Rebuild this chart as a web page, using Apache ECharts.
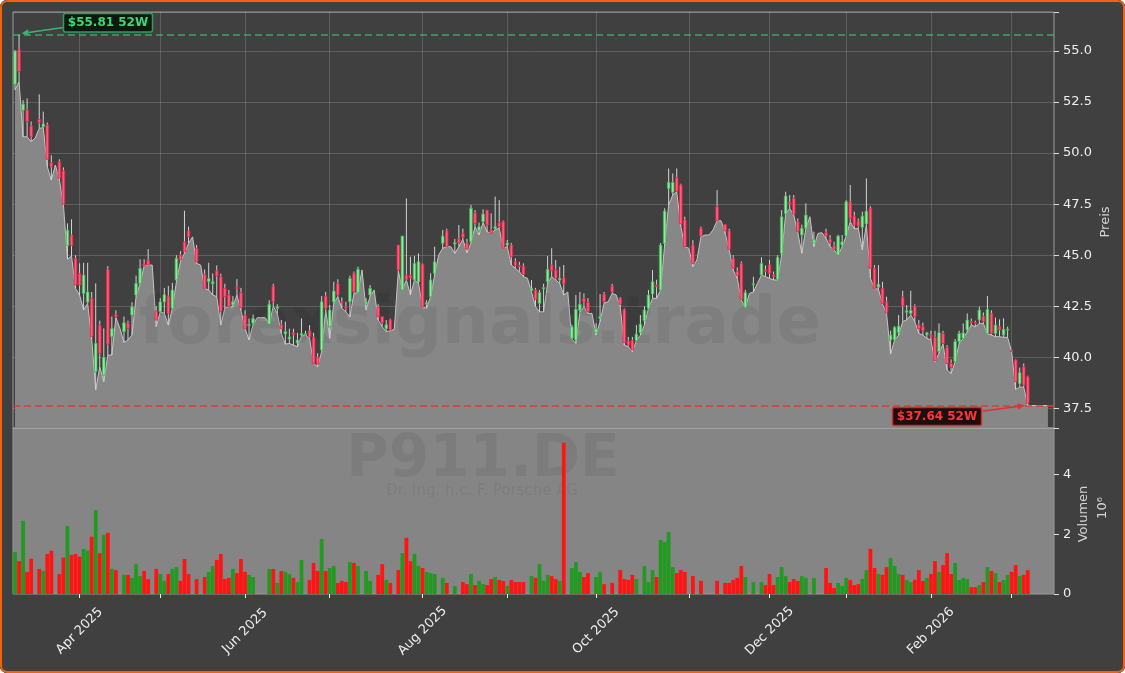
<!DOCTYPE html>
<html>
<head>
<meta charset="utf-8">
<script src="https://cdn.jsdelivr.net/npm/echarts@6/dist/echarts.min.js"></script>
<style>
html,body{margin:0;padding:0;background:#ffffff;}
#wrap{position:relative;width:1125px;height:673px;overflow:hidden;border-radius:7px;background:#404040;}
#chart{position:absolute;left:0;top:0;width:1125px;height:673px;}
#frame{position:absolute;left:0;top:0;width:1125px;height:673px;box-sizing:border-box;border:2.5px solid #f4600c;border-radius:7px;pointer-events:none;}
</style>
</head>
<body>
<div id="wrap"><div id="chart"></div><div id="frame"></div></div>
<script>
// ---------- data ----------
const START_DATE = '2025-03-10';
const HOLIDAYS = ['2025-04-18','2025-04-21','2025-05-01','2025-12-24','2025-12-25','2025-12-26','2025-12-31','2026-01-01'];
const SLOT_COUNT = 258;
const MONTH_NAMES = ['Jan','Feb','Mar','Apr','May','Jun','Jul','Aug','Sep','Oct','Nov','Dec'];
const LABELED_MONTHS = ['Apr','Jun','Aug','Oct','Dec','Feb'];

const openP = [
53.37,55.08,52.10,52.11,51.33,null,51.65,51.29,51.38,49.53,
null,49.58,49.14,45.47,45.99,44.85,44.11,43.13,42.70,42.89,
39.30,41.58,39.13,44.31,41.01,42.10,null,41.25,41.67,42.07,
43.05,43.62,44.57,44.77,null,42.27,42.23,42.72,43.00,42.40,
43.79,45.01,45.66,46.19,null,45.34,null,44.06,43.70,43.60,
44.24,43.95,43.38,43.05,42.56,43.43,43.17,42.07,41.55,41.67,
null,null,null,41.63,43.49,42.40,41.60,41.14,40.90,41.20,
40.70,41.09,41.14,41.30,40.98,40.00,40.36,43.00,41.50,42.72,
43.62,42.72,42.48,42.72,44.11,43.17,null,42.61,43.05,null,
42.45,41.99,41.40,41.83,null,45.50,43.30,44.03,44.03,43.79,
43.70,44.57,42.60,42.97,44.11,null,45.58,46.20,null,45.55,
45.80,46.07,45.60,45.66,47.08,46.20,46.64,47.21,46.24,46.30,
46.60,46.64,45.50,45.50,44.70,44.50,44.47,null,43.26,43.30,
42.64,43.35,43.70,44.52,44.28,43.79,43.90,null,40.93,40.85,
42.30,42.90,42.69,null,41.20,41.90,43.10,null,43.49,null,
42.90,42.35,40.80,40.82,40.82,41.21,41.79,42.40,43.10,43.54,
43.30,45.58,48.27,48.08,48.80,48.44,46.72,null,45.50,null,
46.32,null,null,null,47.38,null,46.50,46.20,44.85,44.20,
44.60,42.45,null,43.55,null,44.03,44.30,44.52,44.05,43.82,
45.09,47.02,47.60,47.79,46.64,45.99,46.32,null,45.60,null,
null,46.10,45.78,45.45,45.01,45.50,45.94,47.62,46.92,46.67,
46.37,46.53,47.30,44.36,43.43,43.38,42.72,40.85,40.85,41.21,
42.94,42.20,42.15,42.51,41.60,41.50,41.10,41.10,40.98,40.28,
41.17,40.49,39.70,39.79,40.77,40.93,41.34,41.75,41.70,41.83,
42.02,41.17,42.15,41.17,41.50,41.09,41.35,40.34,39.87,38.70,
39.54,39.05];

const highP = [
55.05,55.81,52.60,52.68,51.55,null,52.88,52.03,51.50,49.90,
null,49.70,49.30,46.56,46.76,45.00,44.60,44.63,44.63,43.20,
43.62,41.80,41.42,44.47,42.00,42.30,null,42.00,41.80,42.70,
44.00,44.80,44.80,45.30,null,42.50,42.90,43.40,43.50,43.65,
45.00,45.20,47.18,46.40,null,45.50,null,44.30,44.63,44.11,
44.50,44.10,43.60,43.30,43.00,43.83,43.40,42.30,41.90,42.10,
null,null,null,42.80,43.60,42.60,41.83,41.75,41.40,41.40,
41.20,41.91,41.30,41.58,41.20,40.20,43.00,43.20,42.56,43.70,
43.82,42.93,42.72,44.00,44.20,44.44,null,42.90,43.54,null,
42.60,42.00,41.83,41.90,null,45.50,45.94,47.78,44.93,44.97,
45.09,44.60,42.80,44.11,45.42,null,46.24,46.30,null,45.80,
46.48,46.30,45.80,47.46,47.21,46.60,47.25,47.21,47.05,47.87,
47.70,46.70,45.75,45.60,44.85,44.68,44.60,null,43.79,43.40,
43.30,43.60,44.96,45.34,44.77,44.44,44.52,null,41.60,43.05,
43.20,43.13,42.90,null,41.66,43.10,43.20,null,43.60,null,
42.95,42.40,41.00,41.00,41.58,42.07,42.50,43.30,44.28,43.80,
45.60,47.30,49.25,49.00,49.25,48.50,46.89,null,45.74,null,
46.40,null,null,null,48.19,null,46.53,46.30,45.00,44.40,
44.70,43.30,null,43.95,null,44.90,44.50,44.77,44.20,45.00,
47.21,48.11,47.95,47.95,46.80,46.50,47.54,null,46.15,null,
null,46.30,45.99,45.66,46.00,45.99,47.70,48.44,47.13,46.80,
47.13,48.76,47.40,44.52,44.52,43.70,42.97,41.30,41.53,42.07,
43.26,42.56,43.26,42.60,41.83,41.70,41.25,41.30,41.30,41.66,
41.30,40.60,39.90,40.90,41.30,41.66,42.15,41.90,41.80,42.48,
42.20,43.00,42.30,41.95,41.86,41.91,41.50,40.36,39.90,39.50,
39.70,39.10];

const lowP = [
53.10,53.50,50.80,50.80,50.56,50.74,51.21,51.25,49.33,48.68,
49.42,48.68,47.46,44.81,44.96,43.38,43.05,42.32,42.64,40.90,
38.40,39.54,38.81,40.11,40.11,41.95,41.42,40.73,40.85,41.10,
42.97,43.62,44.47,44.52,44.52,41.50,42.23,42.15,41.58,42.40,
43.70,44.68,45.10,45.58,45.90,44.60,44.52,43.38,43.30,43.05,
42.97,41.58,42.40,42.48,42.48,43.05,42.30,41.42,40.85,41.60,
41.94,41.94,41.94,41.63,42.50,42.15,41.18,40.65,40.68,40.60,
40.52,41.04,41.10,40.93,39.70,39.54,40.28,42.32,40.93,42.64,
42.97,42.40,42.23,41.99,43.13,43.17,44.28,42.32,42.97,43.30,
41.83,41.50,41.26,41.30,41.37,44.24,43.30,43.79,43.05,43.79,
43.62,42.48,42.40,42.97,44.03,45.01,45.34,45.42,45.42,45.09,
45.42,45.78,45.12,45.60,46.40,45.99,46.60,46.15,46.07,46.24,
46.32,45.34,45.42,44.52,44.36,44.19,43.95,43.87,43.21,42.48,
42.23,42.23,43.62,43.95,43.79,43.62,43.05,43.20,40.90,40.68,
42.20,42.48,42.15,42.15,41.09,41.75,42.65,42.72,43.13,43.05,
42.48,40.60,40.52,40.28,40.82,41.09,41.60,42.40,42.89,42.89,
43.30,45.50,47.46,47.95,48.10,46.43,45.42,45.34,44.44,44.77,
45.90,45.99,45.99,46.24,46.69,46.69,46.07,45.26,44.28,43.87,
42.80,42.45,43.13,43.20,43.62,44.03,43.95,43.87,43.79,43.79,
45.01,47.02,47.29,46.97,46.10,45.09,46.30,46.89,45.42,46.07,
46.10,45.83,45.42,45.26,45.01,45.42,45.94,46.64,46.30,46.30,
45.26,46.50,43.87,43.38,43.33,42.60,42.15,40.16,40.85,41.09,
41.75,41.83,42.07,41.75,41.17,41.09,40.93,40.85,39.79,40.20,
40.65,39.38,39.21,39.79,40.68,40.93,41.25,41.58,41.50,41.66,
41.66,41.15,41.09,41.01,41.01,40.98,40.98,40.28,38.43,38.54,
38.54,37.64,37.64,37.64,37.64,37.64,37.64];

const closeP = [
55.00,53.99,52.40,51.54,50.80,null,51.49,51.43,49.70,49.33,
null,48.77,47.50,46.23,45.47,43.54,43.54,44.03,43.20,41.01,
40.69,40.20,40.00,40.64,41.42,41.98,null,41.70,41.42,42.48,
43.62,44.36,44.47,44.52,null,41.83,42.72,43.08,42.15,43.30,
44.85,44.77,45.17,45.90,null,44.68,null,43.38,43.87,43.70,
43.98,42.27,42.97,42.48,42.72,43.36,42.43,41.42,41.62,41.91,
null,null,null,42.60,42.72,42.48,41.40,41.26,41.00,41.10,
40.85,41.17,41.16,41.00,39.70,39.67,42.72,42.40,42.32,43.25,
43.05,42.68,42.40,43.87,43.21,44.31,null,42.72,43.38,null,
41.99,41.70,41.60,41.34,null,44.28,45.94,43.79,43.87,44.60,
44.68,42.48,42.67,43.79,44.68,null,45.94,45.42,null,45.62,
45.60,45.88,45.30,47.30,46.56,46.40,47.02,46.48,46.07,46.40,
46.40,45.34,45.60,44.93,44.50,44.44,44.06,null,43.38,42.84,
43.17,43.42,44.31,44.24,43.87,43.87,43.60,null,41.50,42.35,
42.60,42.70,42.24,null,41.40,42.00,42.73,null,43.21,null,
42.60,40.72,40.60,40.36,41.14,41.63,42.32,43.05,43.70,43.46,
45.50,47.16,48.57,48.57,48.14,46.53,45.42,null,44.60,null,
45.94,null,null,null,46.69,null,46.20,45.29,44.36,44.00,
42.84,43.17,null,43.60,null,44.60,44.20,44.11,43.95,44.90,
46.89,47.90,47.50,47.02,46.15,46.32,46.97,null,45.75,null,
null,45.95,45.62,45.29,45.94,45.66,47.62,46.81,46.48,46.43,
46.92,47.16,44.36,43.38,43.59,42.64,42.19,41.09,41.47,41.53,
42.51,42.28,42.30,41.99,41.40,41.30,41.20,41.00,39.84,41.21,
40.68,39.70,39.51,40.77,41.17,41.20,41.83,41.68,41.65,42.32,
41.75,42.35,41.17,41.58,41.34,41.37,41.38,40.29,38.81,39.25,
38.64,37.75];

// volume in millions
const volumeM = [
1.41,1.10,2.45,0.74,1.18,null,0.84,0.77,1.34,1.45,
null,0.67,1.22,2.28,1.31,1.34,1.25,1.51,1.45,1.92,
2.81,1.37,1.98,2.05,0.84,0.80,null,0.64,0.64,0.54,
1.00,0.60,0.77,0.50,null,0.84,0.67,0.44,0.67,0.84,
0.90,0.44,1.17,0.67,null,0.50,null,0.57,0.74,0.94,
1.14,1.34,0.50,0.54,0.84,0.70,1.17,0.74,0.64,0.57,
null,null,null,0.84,0.84,0.37,0.77,0.74,0.67,0.54,
0.40,1.14,null,0.47,1.04,0.77,1.84,0.77,0.87,0.94,
0.37,0.44,0.40,1.07,1.04,0.94,null,0.77,0.44,null,
0.64,1.00,0.47,0.37,null,0.80,1.37,1.88,1.10,1.34,
0.94,0.87,0.74,0.70,0.67,null,0.54,0.37,null,0.27,
null,0.40,0.33,0.67,0.30,0.44,0.33,0.30,0.50,0.57,
0.47,0.44,0.27,0.47,0.40,0.40,0.40,null,0.60,0.54,
1.00,0.44,0.64,0.60,0.50,0.44,5.07,null,0.87,1.07,
0.74,0.57,0.70,null,0.57,0.74,0.33,null,0.37,null,
0.80,0.50,0.47,0.64,0.50,null,0.94,0.40,0.80,0.57,
1.81,1.74,2.08,0.90,0.70,0.80,0.74,null,0.60,null,
0.44,null,null,null,0.44,null,0.37,0.37,0.47,0.54,
0.94,0.57,null,0.40,null,0.40,0.30,0.67,0.30,0.57,
0.90,0.60,0.40,0.50,0.44,0.60,0.54,null,0.54,null,
null,0.87,0.37,0.20,0.37,0.27,0.54,0.47,0.30,0.33,
0.50,0.80,1.51,0.87,0.67,0.64,0.90,1.21,0.94,0.67,
0.64,0.47,0.40,0.47,0.80,0.44,0.54,0.67,1.10,0.74,
0.97,1.37,0.67,1.04,0.47,0.54,0.50,0.23,0.23,0.30,
0.40,0.90,0.77,0.70,0.40,0.47,0.64,0.74,0.97,0.60,
0.64,0.80];

const HIGH_52W = 55.81, HIGH_52W_IDX = 1;
const LOW_52W = 37.64, LOW_52W_IDX = 251;
const PRICE_MIN = 36.54, PRICE_MAX = 56.91;
const VOL_MAX = 5.56;

// ---------- helpers ----------
function buildTradingDays(start, count, holidays) {
  const out = [];
  const d = new Date(start + 'T00:00:00Z');
  while (out.length < count) {
    const wd = d.getUTCDay();
    const s = d.toISOString().slice(0, 10);
    if (wd !== 0 && wd !== 6 && holidays.indexOf(s) < 0) out.push(s);
    d.setUTCDate(d.getUTCDate() + 1);
  }
  return out;
}
const dates = buildTradingDays(START_DATE, SLOT_COUNT, HOLIDAYS);
function monthName(s) { return MONTH_NAMES[parseInt(s.slice(5, 7), 10) - 1]; }
function isMonthStart(i) { return i > 0 && dates[i].slice(0, 7) !== dates[i - 1].slice(0, 7); }
function isLabeled(i) { return isMonthStart(i) && LABELED_MONTHS.indexOf(monthName(dates[i])) >= 0; }
function fmtMonth(v) { return monthName(v) + ' ' + v.slice(0, 4); }
function isMult(v, step) { return Math.abs(v / step - Math.round(v / step)) < 1e-6; }

const UP_FILL = '#a3e0a3', UP_EDGE = '#2fbf4f';
const DN_FILL = '#ff5c7a', DN_EDGE = '#e8234a';
const WICK = '#d2d2d2';
const VOL_UP = '#229a22', VOL_DN = '#ff1414';
const FONT = 'DejaVu Sans';

const candleData = [];
for (let i = 0; i < openP.length; i++) {
  if (openP[i] != null) candleData.push([i, openP[i], closeP[i], lowP[i], highP[i]]);
}
const volData = volumeM.map((v, i) => v == null ? '-' : {
  value: v, itemStyle: { color: closeP[i] >= openP[i] ? VOL_UP : VOL_DN }
});

function renderCandle(params, api) {
  const i = api.value(0), o = api.value(1), c = api.value(2), l = api.value(3), h = api.value(4);
  const pO = api.coord([i, o]), pC = api.coord([i, c]);
  const pL = api.coord([i, l]), pH = api.coord([i, h]);
  const w = api.size([1, 0])[0] * 0.64;
  const up = c >= o;
  const top = Math.min(pO[1], pC[1]), bot = Math.max(pO[1], pC[1]);
  return {
    type: 'group',
    children: [
      { type: 'line', shape: { x1: pH[0], y1: pH[1], x2: pL[0], y2: pL[1] },
        style: { stroke: WICK, lineWidth: 1 } },
      { type: 'rect', shape: { x: pO[0] - w / 2, y: top, width: w, height: Math.max(bot - top, 1) },
        style: { fill: up ? UP_FILL : DN_FILL, stroke: up ? UP_EDGE : DN_EDGE, lineWidth: 0.8 } }
    ]
  };
}

const chart = echarts.init(document.getElementById('chart'), null, { renderer: 'canvas', width: 1125, height: 673 });

const WM = 'rgba(0,0,0,0.065)';
const option = {
  backgroundColor: '#404040',
  animation: false,
  grid: [
    { left: 13, top: 12, width: 1041, height: 416, show: true, backgroundColor: '#404040', borderColor: '#9a9a9a', borderWidth: 1 },
    { left: 13, top: 428, width: 1041, height: 166, show: true, backgroundColor: '#858585', borderColor: '#9a9a9a', borderWidth: 1 }
  ],
  xAxis: [
    { type: 'category', gridIndex: 0, data: dates, boundaryGap: true,
      axisLine: { show: false }, axisTick: { show: false }, axisLabel: { show: false },
      splitLine: { show: true, interval: (i) => isMonthStart(i), alignWithLabel: true,
                   lineStyle: { color: 'rgba(255,255,255,0.16)', width: 1 } } },
    { type: 'category', gridIndex: 1, data: dates, boundaryGap: true,
      axisLine: { show: false },
      axisTick: { show: true, alignWithLabel: true, interval: (i) => isMonthStart(i), length: 4,
                  lineStyle: { color: '#eeeeee' } },
      axisLabel: { show: true, interval: (i) => isLabeled(i), formatter: fmtMonth, rotate: 45,
                   align: 'center', verticalAlign: 'middle', margin: 37,
                   color: '#eeeeee', fontSize: 13, fontFamily: FONT },
      splitLine: { show: false } }
  ],
  yAxis: [
    { type: 'value', gridIndex: 0, position: 'right', min: PRICE_MIN, max: PRICE_MAX,
      minInterval: 2.5, maxInterval: 2.5,
      axisLine: { show: false },
      axisTick: { show: true, length: 5, lineStyle: { color: '#dddddd' } },
      axisLabel: { color: '#eeeeee', fontSize: 13, fontFamily: FONT, margin: 9,
                   formatter: (v) => isMult(v, 2.5) ? v.toFixed(1) : '' },
      splitLine: { show: true, lineStyle: { color: 'rgba(255,255,255,0.16)', width: 1 } } },
    { type: 'value', gridIndex: 1, position: 'right', min: 0, max: VOL_MAX,
      minInterval: 2, maxInterval: 2,
      axisLine: { show: false },
      axisTick: { show: true, length: 5, lineStyle: { color: '#dddddd' } },
      axisLabel: { color: '#eeeeee', fontSize: 13, fontFamily: FONT, margin: 9,
                   formatter: (v) => isMult(v, 2) ? String(Math.round(v)) : '' },
      splitLine: { show: false } }
  ],
  series: [
    { type: 'line', name: 'low', xAxisIndex: 0, yAxisIndex: 0, data: lowP,
      showSymbol: false, symbol: 'none', silent: true, z: 2,
      lineStyle: { color: '#c4c4c4', width: 1 },
      areaStyle: { color: '#878787', opacity: 1, origin: 'start' },
      markLine: { silent: true, symbol: ['none', 'none'], label: { show: false },
        data: [
          { yAxis: HIGH_52W, lineStyle: { color: 'rgba(60,190,110,0.8)', type: [7, 4], width: 1.5 } },
          { yAxis: LOW_52W, lineStyle: { color: '#dc3c3c', type: [7, 4], width: 1.5 } }
        ] } },
    { type: 'custom', name: 'candles', xAxisIndex: 0, yAxisIndex: 0, data: candleData,
      renderItem: renderCandle, encode: { x: 0, y: [1, 2, 3, 4] }, z: 5, silent: true, clip: true },
    { type: 'bar', name: 'volume', xAxisIndex: 1, yAxisIndex: 1, data: volData,
      barCategoryGap: '6%', z: 4, silent: true }
  ],
  graphic: { elements: [
    { id: 'wm1', type: 'text', x: 480, y: 326, z: 3, silent: true,
      style: { text: 'forexsignals.trade', font: 'bold 66px "DejaVu Sans"', fill: WM, textAlign: 'center', textVerticalAlign: 'middle' } },
    { id: 'wm2', type: 'text', x: 483, y: 461, z: 3, silent: true,
      style: { text: 'P911.DE', font: 'bold 58px "DejaVu Sans"', fill: WM, textAlign: 'center', textVerticalAlign: 'middle' } },
    { id: 'wm3', type: 'text', x: 482, y: 491, z: 3, silent: true,
      style: { text: 'Dr. Ing. h.c. F. Porsche AG', font: '15px "DejaVu Sans"', fill: WM, textAlign: 'center', textVerticalAlign: 'middle' } },
    { id: 'nmP', type: 'text', x: 1106, y: 222, rotation: Math.PI / 2, z: 6, silent: true,
      style: { text: 'Preis', font: '13px "DejaVu Sans"', fill: '#d4d4d4', textAlign: 'center', textVerticalAlign: 'middle' } },
    { id: 'nmV', type: 'text', x: 1084, y: 514, rotation: Math.PI / 2, z: 6, silent: true,
      style: { text: 'Volumen', font: '13px "DejaVu Sans"', fill: '#d4d4d4', textAlign: 'center', textVerticalAlign: 'middle' } },
    { id: 'nmE', type: 'text', x: 1103, y: 508, rotation: Math.PI / 2, z: 6, silent: true,
      style: { text: '10\u2076', font: '13px "DejaVu Sans"', fill: '#d4d4d4', textAlign: 'center', textVerticalAlign: 'middle' } }
  ] }
};
chart.setOption(option);

// ---------- 52W annotations (positions via the chart's own scales) ----------
function arrowEls(id, from, tip, color) {
  const dx = tip[0] - from[0], dy = tip[1] - from[1], len = Math.hypot(dx, dy);
  const ux = dx / len, uy = dy / len, hl = 7, hw = 3.2;
  const base = [tip[0] - ux * hl, tip[1] - uy * hl];
  const left = [base[0] - uy * hw, base[1] + ux * hw], right = [base[0] + uy * hw, base[1] - ux * hw];
  return [
    { id: id + 'L', type: 'line', z: 10, silent: true, shape: { x1: from[0], y1: from[1], x2: base[0], y2: base[1] },
      style: { stroke: color, lineWidth: 1.5 } },
    { id: id + 'H', type: 'polygon', z: 10, silent: true, shape: { points: [tip, left, right] }, style: { fill: color } }
  ];
}
const pHi = chart.convertToPixel({ xAxisIndex: 0, yAxisIndex: 0 }, [HIGH_52W_IDX, HIGH_52W]);
const pLo = chart.convertToPixel({ xAxisIndex: 0, yAxisIndex: 0 }, [LOW_52W_IDX, LOW_52W]);
const hiBox = { x: 63.5, y: 13.5, w: 89, h: 18.5 };
const loBox = { x: 892.5, y: 407.5, w: 89, h: 18 };
const ann = [].concat(
  arrowEls('ah', [hiBox.x, 27.5], [pHi[0] + 2.5, pHi[1] - 1], '#3cb371'),
  arrowEls('al', [loBox.x + loBox.w + 1.5, 411], [pLo[0] - 3, pLo[1]], '#e03030'),
  [
    { id: 'bh', type: 'rect', z: 11, silent: true, shape: { x: hiBox.x, y: hiBox.y, width: hiBox.w, height: hiBox.h, r: 2 },
      style: { fill: '#0b1a10', stroke: '#2e9e5b', lineWidth: 1.5 } },
    { id: 'th', type: 'text', z: 12, silent: true, x: hiBox.x + hiBox.w / 2, y: hiBox.y + hiBox.h / 2 + 0.5,
      style: { text: '$' + HIGH_52W.toFixed(2) + ' 52W', font: 'bold 12px "DejaVu Sans"', fill: '#3fd676', textAlign: 'center', textVerticalAlign: 'middle' } },
    { id: 'bl', type: 'rect', z: 11, silent: true, shape: { x: loBox.x, y: loBox.y, width: loBox.w, height: loBox.h, r: 2 },
      style: { fill: '#1e0d0d', stroke: '#d42a2a', lineWidth: 1.5 } },
    { id: 'tl', type: 'text', z: 12, silent: true, x: loBox.x + loBox.w / 2, y: loBox.y + loBox.h / 2 + 0.5,
      style: { text: '$' + LOW_52W.toFixed(2) + ' 52W', font: 'bold 12px "DejaVu Sans"', fill: '#ff3636', textAlign: 'center', textVerticalAlign: 'middle' } }
  ]
);
chart.setOption({ graphic: { elements: ann } });
</script>
</body>
</html>
